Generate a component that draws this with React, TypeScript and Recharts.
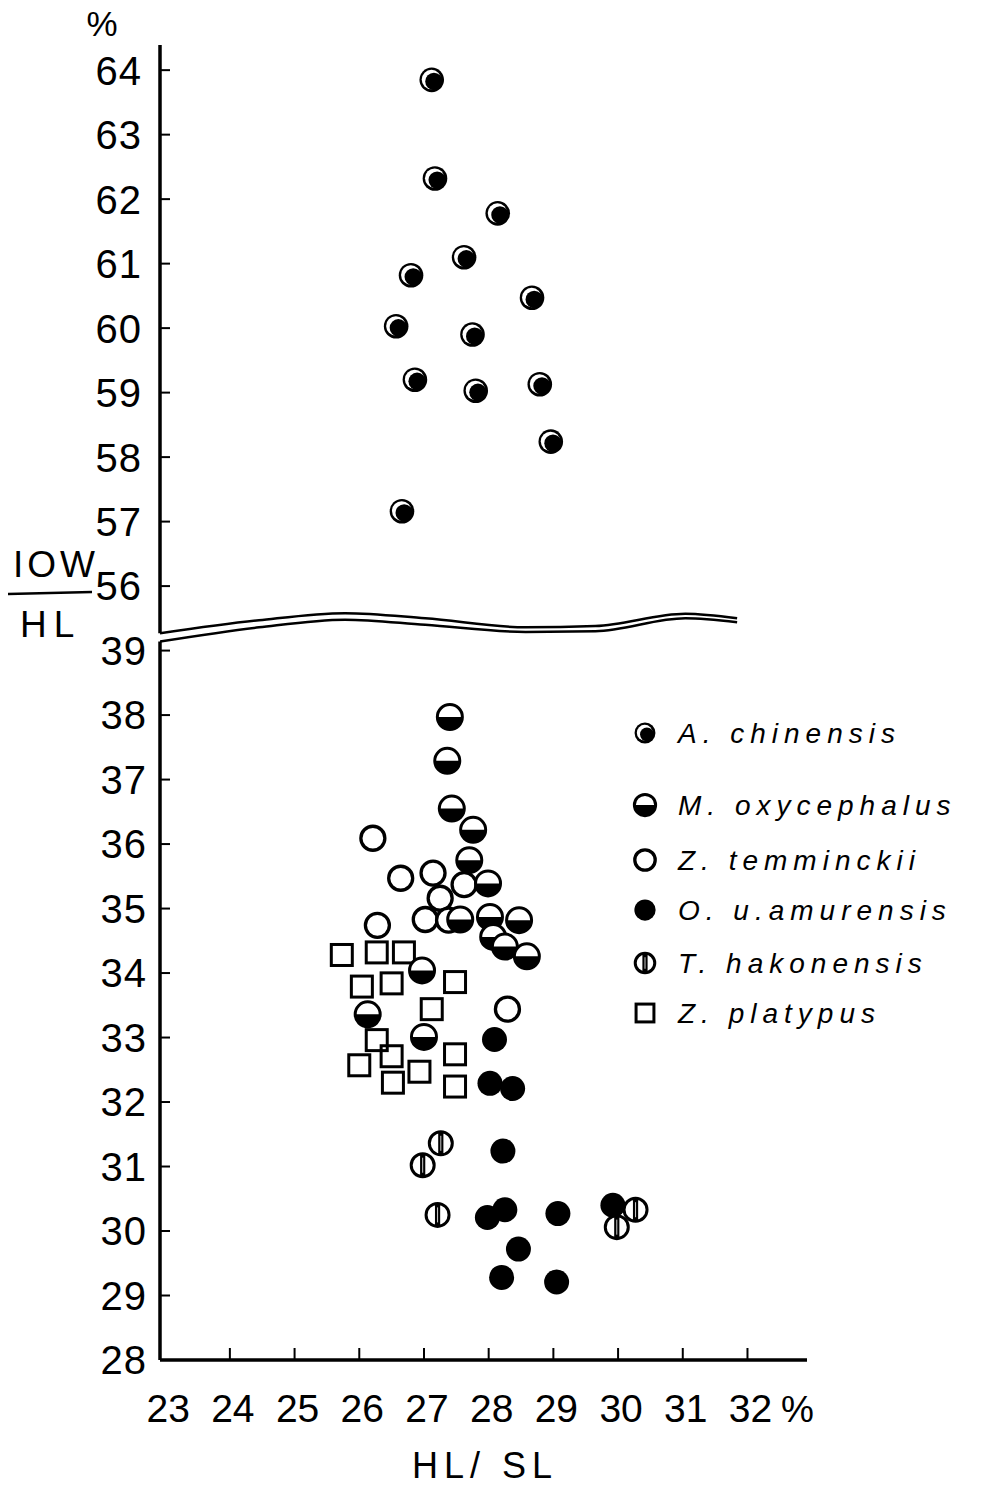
import React from 'react';
import { ComposedChart, Scatter, Line, XAxis, YAxis, ReferenceLine, Legend } from 'recharts';

const FONT = '"Liberation Sans", Arial, sans-serif';

// ---- tick labels ----
const xTicks = [23, 24, 25, 26, 27, 28, 29, 30, 31, 32];
const yTicksLower = [28, 29, 30, 31, 32, 33, 34, 35, 36, 37, 38, 39];
const yTicksUpper = [56, 57, 58, 59, 60, 61, 62, 63, 64];
// upper block (56-64) is drawn right above the break after 39
const BREAK_SHIFT = 16;

// ---- series values: [HL/SL %, IOW/HL %] ----
const aChinensis: [number, number][] = [
  [27.12, 63.85], [27.17, 62.32], [28.14, 61.78], [27.62, 61.1], [26.8, 60.82],
  [28.67, 60.47], [26.57, 60.03], [27.75, 59.9], [26.86, 59.2], [27.8, 59.03],
  [28.79, 59.13], [28.96, 58.24], [26.66, 57.16],
];
const mOxycephalus: [number, number][] = [
  [27.4, 37.97], [27.36, 37.29], [27.43, 36.55], [27.76, 36.22], [27.7, 35.75],
  [27.99, 35.39], [27.56, 34.83], [28.02, 34.87], [28.47, 34.82], [28.07, 34.56],
  [28.25, 34.41], [28.59, 34.26], [26.97, 34.04], [26.13, 33.36], [27.0, 33.01],
];
const zTemminckii: [number, number][] = [
  [26.21, 36.09], [26.64, 35.47], [27.14, 35.55], [27.62, 35.37], [27.25, 35.16],
  [27.02, 34.83], [27.38, 34.82], [26.28, 34.74], [28.29, 33.44],
];
const oAmurensis: [number, number][] = [
  [28.09, 32.97], [28.02, 32.29], [28.37, 32.21], [28.22, 31.24], [27.98, 30.21],
  [28.25, 30.33], [29.07, 30.27], [29.92, 30.4], [28.46, 29.72], [28.2, 29.28],
  [29.05, 29.21],
];
const tHakonensis: [number, number][] = [
  [27.26, 31.36], [26.98, 31.02], [27.21, 30.25], [30.27, 30.33], [29.98, 30.06],
];
const zPlatypus: [number, number][] = [
  [25.73, 34.28], [26.27, 34.32], [26.69, 34.32], [26.04, 33.79], [26.5, 33.84],
  [27.48, 33.86], [27.12, 33.44], [26.27, 32.96], [26.5, 32.71], [26.0, 32.57],
  [27.48, 32.74], [26.93, 32.47], [26.52, 32.3], [27.48, 32.24],
];

// wavy double break line (in the drawn scale, between 39 and 56)
const breakUpper: [number, number][] = [
  [22.92, 39.27], [24.45, 39.47], [25.78, 39.58], [27.02, 39.5], [28.57, 39.36],
  [29.65, 39.38], [31.04, 39.57], [31.84, 39.5],
];
const breakLower: [number, number][] = [
  [22.92, 39.14], [24.45, 39.36], [25.78, 39.48], [27.02, 39.4], [28.57, 39.29],
  [29.65, 39.3], [31.04, 39.5], [31.84, 39.44],
];

const X_MIN = 22.92;
const X_MAX = 32.92;
const Y_MIN = 28;
const Y_MAX = 48.39;

const toPts = (arr: [number, number][], shift = 0) => arr.map(([x, y]) => ({ x, y: y - shift }));

type Kind = 'A' | 'M' | 'Z' | 'O' | 'T' | 'S';

const series: { name: string; kind: Kind; data: { x: number; y: number }[] }[] = [
  { name: 'A. chinensis', kind: 'A', data: toPts(aChinensis, BREAK_SHIFT) },
  { name: 'M. oxycephalus', kind: 'M', data: toPts(mOxycephalus) },
  { name: 'Z. temminckii', kind: 'Z', data: toPts(zTemminckii) },
  { name: 'O. u.amurensis', kind: 'O', data: toPts(oAmurensis) },
  { name: 'T. hakonensis', kind: 'T', data: toPts(tHakonensis) },
  { name: 'Z. platypus', kind: 'S', data: toPts(zPlatypus) },
];
const drawOrder: Kind[] = ['S', 'Z', 'M', 'O', 'T', 'A'];

function Marker({ kind, cx, cy, scale = 1 }: { kind: Kind; cx: number; cy: number; scale?: number }) {
  if (cx == null || cy == null) return null;
  switch (kind) {
    case 'A': {
      const r = 12.3 * scale;
      return (
        <g>
          <circle cx={cx} cy={cy} r={r} fill="#000" />
          <circle cx={cx - 0.3} cy={cy - 0.3} r={r - 2.6} fill="#fff" />
          <circle cx={cx + 2.2 * scale} cy={cy + 1.6 * scale} r={r - 3.6} fill="#000" />
        </g>
      );
    }
    case 'M': {
      const r = 12.5 * scale;
      return (
        <g>
          <circle cx={cx} cy={cy} r={r} fill="#fff" stroke="#000" strokeWidth={3} />
          <path d={`M ${cx - r} ${cy} A ${r} ${r} 0 0 0 ${cx + r} ${cy} Z`} fill="#000" />
        </g>
      );
    }
    case 'Z': {
      const r = 12 * scale;
      return <circle cx={cx} cy={cy} r={r} fill="#fff" stroke="#000" strokeWidth={3.3} />;
    }
    case 'O': {
      const r = 12.5 * scale;
      return <circle cx={cx} cy={cy} r={r} fill="#000" />;
    }
    case 'T': {
      const r = 11.5 * scale;
      return (
        <g>
          <circle cx={cx} cy={cy} r={r} fill="#fff" stroke="#000" strokeWidth={3} />
          <rect x={cx - 2.6} y={cy - r} width={5.2} height={2 * r} fill="#000" />
          <line x1={cx} y1={cy - r + 4} x2={cx} y2={cy + r - 4} stroke="#fff" strokeWidth={0.8} />
        </g>
      );
    }
    case 'S': {
      const h = 10.5 * scale;
      return <rect x={cx - h} y={cy - h} width={2 * h} height={2 * h} fill="none" stroke="#000" strokeWidth={3} />;
    }
  }
  return null;
}

const XTick = (props: any) => {
  const { x, y, payload } = props;
  const v = payload.value;
  return (
    <g>
      {v !== 23 && <line x1={x} y1={y} x2={x} y2={y - 12} stroke="#000" strokeWidth={2} />}
      <text x={x + 3} y={y + 62} textAnchor="middle" fontFamily={FONT} fontSize={39} fill="#000">
        {v}
      </text>
      {v === 32 && (
        <text x={x + 50} y={y + 62} textAnchor="middle" fontFamily={FONT} fontSize={37} fill="#000">
          %
        </text>
      )}
    </g>
  );
};

const YTick = (props: any) => {
  const { x, y, payload } = props;
  const v = payload.value;
  const upper = v > 39.5;
  const label = upper ? v + BREAK_SHIFT : v;
  return (
    <g>
      {v !== 28 && <line x1={x} y1={y} x2={x + 10} y2={y} stroke="#000" strokeWidth={2} />}
      <text
        x={x - (upper ? 18 : 13)}
        y={y}
        dy="0.36em"
        textAnchor="end"
        fontFamily={FONT}
        fontSize={40}
        letterSpacing={1}
        fill="#000"
      >
        {label}
      </text>
    </g>
  );
};

const YAxisTitle = () => (
  <g fontFamily={FONT} fill="#000">
    <text x={94} y={36} textAnchor="middle" fontSize={35}>%</text>
    <text x={5} y={577} fontSize={37} letterSpacing={4}>IOW</text>
    <line x1={0} y1={594} x2={84} y2={592} stroke="#000" strokeWidth={2.5} />
    <text x={12} y={637} fontSize={37} letterSpacing={7}>HL</text>
  </g>
);

const XAxisTitle = () => (
  <g fontFamily={FONT} fill="#000">
    <text x={477} y={1478} textAnchor="middle" fontSize={36} letterSpacing={6}>HL/ SL</text>
  </g>
);

const legendRows = [21, 93, 148, 198, 251, 301];

const LegendContent = () => (
  <svg width={340} height={320} style={{ display: 'block' }}>
    {series.map((s, i) => (
      <g key={s.name}>
        <Marker kind={s.kind} cx={17} cy={legendRows[i]} scale={0.85} />
        <text
          x={50}
          y={legendRows[i] + 10}
          fontFamily={FONT}
          fontStyle="italic"
          fontSize={28}
          letterSpacing={6}
          fill="#000"
        >
          {s.name}
        </text>
      </g>
    ))}
  </svg>
);

export default function App() {
  const yTicks = [...yTicksLower, ...yTicksUpper.map((v) => v - BREAK_SHIFT)];
  const ordered = drawOrder.map((k) => series.find((s) => s.kind === k)!);
  return (
    <div style={{ width: 969, height: 1497, marginTop: -8, marginBottom: -8, background: '#fff' }}>
      <ComposedChart width={969} height={1497} margin={{ top: 45, right: 170, bottom: 37, left: 72 }}>
        <XAxis
          type="number"
          dataKey="x"
          domain={[X_MIN, X_MAX]}
          allowDataOverflow
          ticks={xTicks}
          interval={0}
          tickSize={0}
          tickMargin={0}
          tickLine={false}
          axisLine={{ stroke: '#000', strokeWidth: 3.5 }}
          tick={<XTick />}
          height={100}
          label={<XAxisTitle />}
        />
        <YAxis
          type="number"
          dataKey="y"
          domain={[Y_MIN, Y_MAX]}
          allowDataOverflow
          ticks={yTicks}
          interval={0}
          tickSize={0}
          tickMargin={0}
          tickLine={false}
          axisLine={false}
          tick={<YTick />}
          width={80}
          label={<YAxisTitle />}
        />
        <ReferenceLine
          segment={[{ x: X_MIN, y: Y_MIN }, { x: X_MIN, y: 39.14 }]}
          stroke="#000"
          strokeWidth={3.5}
          ifOverflow="visible"
        />
        <ReferenceLine
          segment={[{ x: X_MIN, y: 39.27 }, { x: X_MIN, y: Y_MAX }]}
          stroke="#000"
          strokeWidth={3.5}
          ifOverflow="visible"
        />
        <Line
          data={toPts(breakUpper)}
          dataKey="y"
          type="monotone"
          dot={false}
          activeDot={false}
          stroke="#000"
          strokeWidth={2.5}
          isAnimationActive={false}
          legendType="none"
        />
        <Line
          data={toPts(breakLower)}
          dataKey="y"
          type="monotone"
          dot={false}
          activeDot={false}
          stroke="#000"
          strokeWidth={2.5}
          isAnimationActive={false}
          legendType="none"
        />
        {ordered.map((s) => (
          <Scatter
            key={s.name}
            name={s.name}
            data={s.data}
            dataKey="y"
            isAnimationActive={false}
            shape={(p: any) => <Marker kind={s.kind} cx={p.cx} cy={p.cy} />}
          />
        ))}
        <Legend
          layout="vertical"
          align="center"
          verticalAlign="middle"
          wrapperStyle={{ top: 712, left: 620, width: 340 }}
          content={() => <LegendContent />}
        />
      </ComposedChart>
    </div>
  );
}
